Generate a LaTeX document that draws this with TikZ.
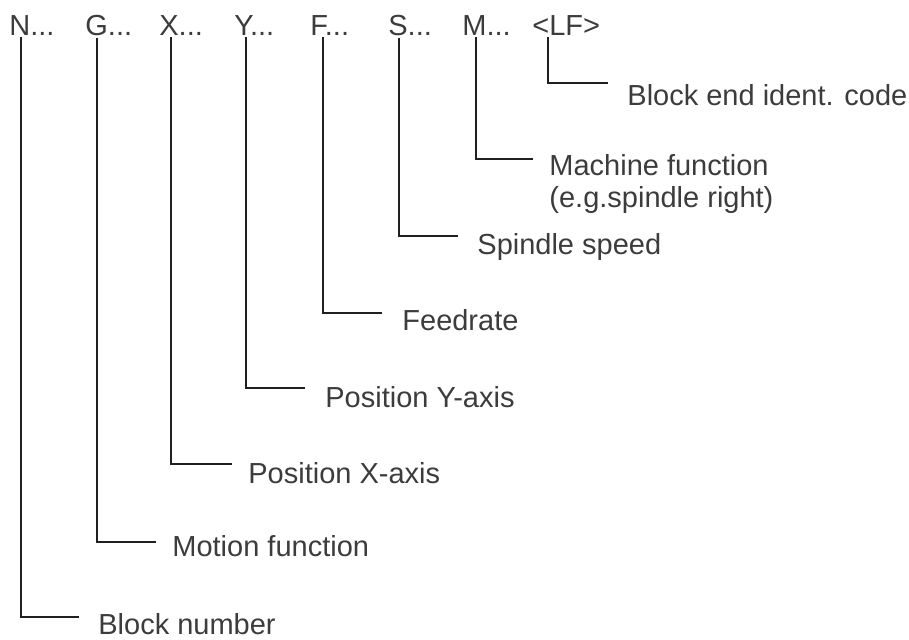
\documentclass[tikz,border=0pt]{standalone}
\usepackage{fontspec}
\setmainfont{Liberation Sans}
\definecolor{inkgray}{HTML}{3C3C3C}
\definecolor{linegray}{HTML}{202020}
\begin{document}
\begin{tikzpicture}
    [x=0.5pt,y=-0.5pt,
     code/.style={inner sep=1pt,anchor=base west,text=inkgray,font=\fontsize{14.5}{16}\selectfont},
     lbl/.style={inner sep=0pt,anchor=base west,text=inkgray,align=left,font=\fontsize{14.5}{16}\selectfont},
     lead/.style={draw=linegray,line width=0.6pt}]
    \useasboundingbox (0,0) rectangle (909,639);
    % block word
    \node [code] (N) at (7,35) {N...};
    \node [code] (G) at (83,35) {G...};
    \node [code] (X) at (157,35) {X...};
    \node [code] (Y) at (232,35) {Y...};
    \node [code] (F) at (308,35) {F...};
    \node [code] (S) at (386,35) {S...};
    \node [code] (M) at (460,35) {M...};
    \node [code] (LF) at (530,35) {<LF>};
    % ends of the leaders
    \coordinate (N-end) at (79,617);
    \coordinate (G-end) at (156,542);
    \coordinate (X-end) at (232,464);
    \coordinate (Y-end) at (305,388);
    \coordinate (F-end) at (382,313);
    \coordinate (S-end) at (458,236);
    \coordinate (M-end) at (533,159);
    \coordinate (LF-end) at (608,83);
    % meanings
    \node [lbl] (blocknr) at (98,634) {Block number};
    \node [lbl] (motion) at (172,556) {Motion function};
    \node [lbl] (posx) at (248,483) {Position X-axis};
    \node [lbl] (posy) at (325,407) {Position Y-axis};
    \node [lbl] (feed) at (402,330) {Feedrate};
    \node [lbl] (spindle) at (477,254) {Spindle speed};
    \node [lbl] (machine) at (549,207) {Machine function\\(e.g.spindle right)};
    \node [lbl] (blockend) at (627,105) {Block end ident. code};
    % leaders
    \draw [lead] (N.south -| 21,0) |- (N-end);
    \draw [lead] (G.south -| 97,0) |- (G-end);
    \draw [lead] (X.south -| 171,0) |- (X-end);
    \draw [lead] (Y.south -| 246,0) |- (Y-end);
    \draw [lead] (F.south -| 323,0) |- (F-end);
    \draw [lead] (S.south -| 399,0) |- (S-end);
    \draw [lead] (M.south -| 476,0) |- (M-end);
    \draw [lead] (LF.south -| 548,0) |- (LF-end);
  \end{tikzpicture}
\end{document}
